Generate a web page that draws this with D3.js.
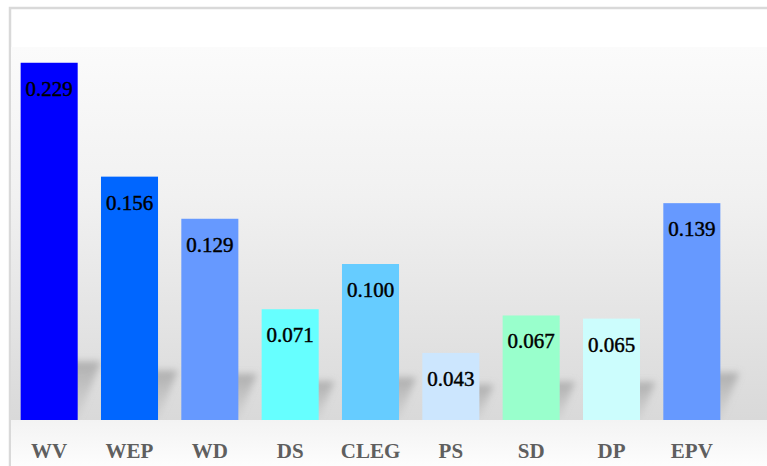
<!DOCTYPE html>
<html>
<head>
<meta charset="utf-8">
<script src="https://cdn.jsdelivr.net/npm/d3@7"></script>
<style>
  html, body { margin: 0; padding: 0; background: #fff; }
  svg { display: block; }
</style>
</head>
<body>
<svg id="chart" width="767" height="466"></svg>
<script>
// chart data
const categories = ['WV', 'WEP', 'WD', 'DS', 'CLEG', 'PS', 'SD', 'DP', 'EPV'];
const values = [0.229, 0.156, 0.129, 0.071, 0.100, 0.043, 0.067, 0.065, 0.139];

// bar colours, one per category
const palette = ['#0000ff', '#0066ff', '#6699ff', '#66ffff', '#66ccff',
                 '#cce6fe', '#99ffcc', '#ccfdfd', '#6699ff'];

const svg = d3.select('#chart');
const width = +svg.attr('width');
const height = +svg.attr('height');

const baseY = 420;

const x = d3.scaleBand()
  .domain(categories)
  .range([9, 732])
  .paddingInner(0.29)
  .paddingOuter(0.145);

const y = d3.scaleLinear()
  .domain([0, 0.25])
  .range([baseY, 30]);

const colour = d3.scaleOrdinal().domain(categories).range(palette);

const defs = svg.append('defs');

// wall gradient (white at top, grey near the floor)
const wall = defs.append('linearGradient')
  .attr('id', 'wall').attr('x1', 0).attr('y1', 0).attr('x2', 0).attr('y2', 1);
wall.append('stop').attr('offset', '0%').attr('stop-color', '#fbfbfb');
wall.append('stop').attr('offset', '40%').attr('stop-color', '#f1f1f1');
wall.append('stop').attr('offset', '100%').attr('stop-color', '#d9d9d9');

const floor = defs.append('linearGradient')
  .attr('id', 'floor').attr('x1', 0).attr('y1', 0).attr('x2', 0).attr('y2', 1);
floor.append('stop').attr('offset', '0%').attr('stop-color', '#f3f3f3');
floor.append('stop').attr('offset', '100%').attr('stop-color', '#fdfdfd');

const shade = defs.append('linearGradient')
  .attr('id', 'shade').attr('x1', 0).attr('y1', 0).attr('x2', 0).attr('y2', 1);
shade.append('stop').attr('offset', '0%').attr('stop-color', '#8c8c8c').attr('stop-opacity', 0.6);
shade.append('stop').attr('offset', '100%').attr('stop-color', '#b0b0b0').attr('stop-opacity', 0.15);

defs.append('filter').attr('id', 'blur')
  .attr('x', '-30%').attr('y', '-30%').attr('width', '160%').attr('height', '160%')
  .append('feGaussianBlur').attr('stdDeviation', 3.5);

defs.append('clipPath').attr('id', 'wall-clip')
  .append('rect').attr('x', 11).attr('y', 47).attr('width', width).attr('height', baseY - 47);

// outer frame
svg.append('rect')
  .attr('x', 10).attr('y', 8)
  .attr('width', width).attr('height', height)
  .attr('fill', '#fff')
  .attr('stroke', '#d9d9d9')
  .attr('stroke-width', 2.5);

// back wall + floor
svg.append('rect')
  .attr('x', 11).attr('y', 47)
  .attr('width', width).attr('height', baseY - 47)
  .attr('fill', 'url(#wall)');
svg.append('rect')
  .attr('x', 11).attr('y', baseY)
  .attr('width', width).attr('height', height - baseY)
  .attr('fill', 'url(#floor)');

// perspective shadows behind the bars
const shadowG = svg.append('g').attr('clip-path', 'url(#wall-clip)');
shadowG.selectAll('.shadow')
  .data(categories.map((c, i) => [c, values[i]]))
  .join('polygon')
    .attr('class', 'shadow')
    .attr('fill', 'url(#shade)')
    .attr('filter', 'url(#blur)')
    .attr('points', d => {
      const x0 = x(d[0]) + x.bandwidth() * 0.2;
      const x1 = x(d[0]) + x.bandwidth();
      const h = (baseY - y(d[1])) * 0.08 + 30;
      const dx = h * 0.4;
      return [[x0, baseY], [x1, baseY], [x1 + dx, baseY - h], [x0 + dx, baseY - h]];
    });

// bars
svg.selectAll('.bar')
  .data(categories.map((c, i) => [c, values[i]]))
  .join('rect')
    .attr('class', 'bar')
    .attr('x', d => x(d[0]))
    .attr('y', d => y(d[1]))
    .attr('width', x.bandwidth())
    .attr('height', d => baseY - y(d[1]))
    .attr('fill', d => colour(d[0]));

// value labels inside bars
svg.selectAll('.val')
  .data(categories.map((c, i) => [c, values[i]]))
  .join('text')
    .attr('class', 'val')
    .attr('x', d => x(d[0]) + x.bandwidth() / 2)
    .attr('y', d => y(d[1]) + 33)
    .attr('text-anchor', 'middle')
    .attr('font-family', '"Liberation Serif", "DejaVu Serif", serif')
    .attr('font-size', 21)
    .attr('fill', '#000')
    .attr('stroke', '#000')
    .attr('stroke-width', 0.45)
    .text(d => d3.format('.3f')(d[1]));

// category axis
const axis = svg.append('g')
  .attr('transform', `translate(0,${baseY})`)
  .call(d3.axisBottom(x).tickSize(0).tickPadding(23));
axis.select('.domain').remove();
axis.selectAll('text')
  .attr('font-family', '"Liberation Serif", "DejaVu Serif", serif')
  .attr('font-size', 21)
  .attr('font-weight', 'bold')
  .attr('fill', '#5f5f5f');
</script>
</body>
</html>
